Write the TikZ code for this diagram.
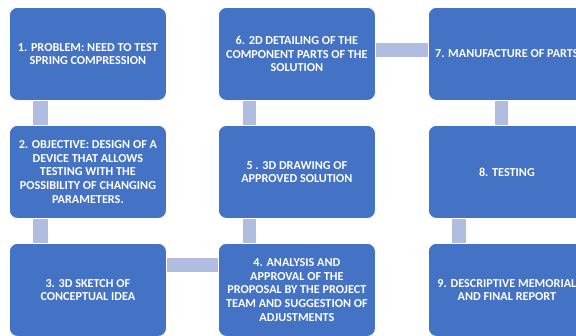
\documentclass[tikz,border=0pt]{standalone}
\usepackage{fontspec}
\setmainfont{Carlito}
\usetikzlibrary{calc,backgrounds}
\definecolor{boxblue}{HTML}{4472C4}
\definecolor{connblue}{HTML}{B0BDE0}
\tikzset{
  stepbox/.style={rectangle, rounded corners=8pt, fill=boxblue, draw=white, line width=0.8pt,
    minimum width=157pt, minimum height=93pt, inner sep=0pt, anchor=north west,
    text=white, font=\fontsize{12.2pt}{13.7pt}\selectfont\bfseries, align=center},
  conn/.style={draw=none, fill=connblue}
}
\begin{document}
\begin{tikzpicture}[x=1pt,y=-1pt]
\useasboundingbox (0,0) rectangle (576,335);
\clip (0,0) rectangle (576,335);
% boxes
\node[stepbox] (b1) at (9,7) {1. PROBLEM: NEED TO TEST\\SPRING COMPRESSION};
\node[stepbox] (b2) at (9,125) {2. OBJECTIVE: DESIGN OF A\\DEVICE THAT ALLOWS\\TESTING WITH THE\\POSSIBILITY OF CHANGING\\PARAMETERS.};
\node[stepbox] (b3) at (9,243) {3. 3D SKETCH OF\\CONCEPTUAL IDEA};
\node[stepbox] (b4) at (218,243) {4. ANALYSIS AND\\APPROVAL OF THE\\PROPOSAL BY THE PROJECT\\TEAM AND SUGGESTION OF\\ADJUSTMENTS};
\node[stepbox] (b5) at (218,125) {5 . 3D DRAWING OF\\APPROVED SOLUTION};
\node[stepbox] (b6) at (218,7) {6. 2D DETAILING OF THE\\COMPONENT PARTS OF THE\\SOLUTION};
\node[stepbox] (b7) at (428,7) {7. MANUFACTURE OF PARTS};
\node[stepbox] (b8) at (428,125) {8. TESTING};
\node[stepbox] (b9) at (428,243) {9. DESCRIPTIVE MEMORIAL\\AND FINAL REPORT};
% connectors
\begin{pgfonlayer}{background}
\fill[conn] ($(b1.south west)+(24,0)$) rectangle ($(b2.north west)+(39,0)$);
\fill[conn] ($(b2.south west)+(24,0)$) rectangle ($(b3.north west)+(39,0)$);
\fill[conn] ($(b3.north east)+(0,15)$) rectangle ($(b4.north west)+(0,29)$);
\fill[conn] ($(b4.north west)+(25,0)$) rectangle ($(b5.south west)+(38,0)$);
\fill[conn] ($(b5.north west)+(25,0)$) rectangle ($(b6.south west)+(38,0)$);
\fill[conn] ($(b6.north east)+(0,36)$) rectangle ($(b7.north west)+(0,50)$);
\fill[conn] ($(b7.south west)+(67,0)$) rectangle ($(b8.north west)+(80,0)$);
\fill[conn] ($(b8.south west)+(24,0)$) rectangle ($(b9.north west)+(38,0)$);
\end{pgfonlayer}
\end{tikzpicture}
\end{document}
